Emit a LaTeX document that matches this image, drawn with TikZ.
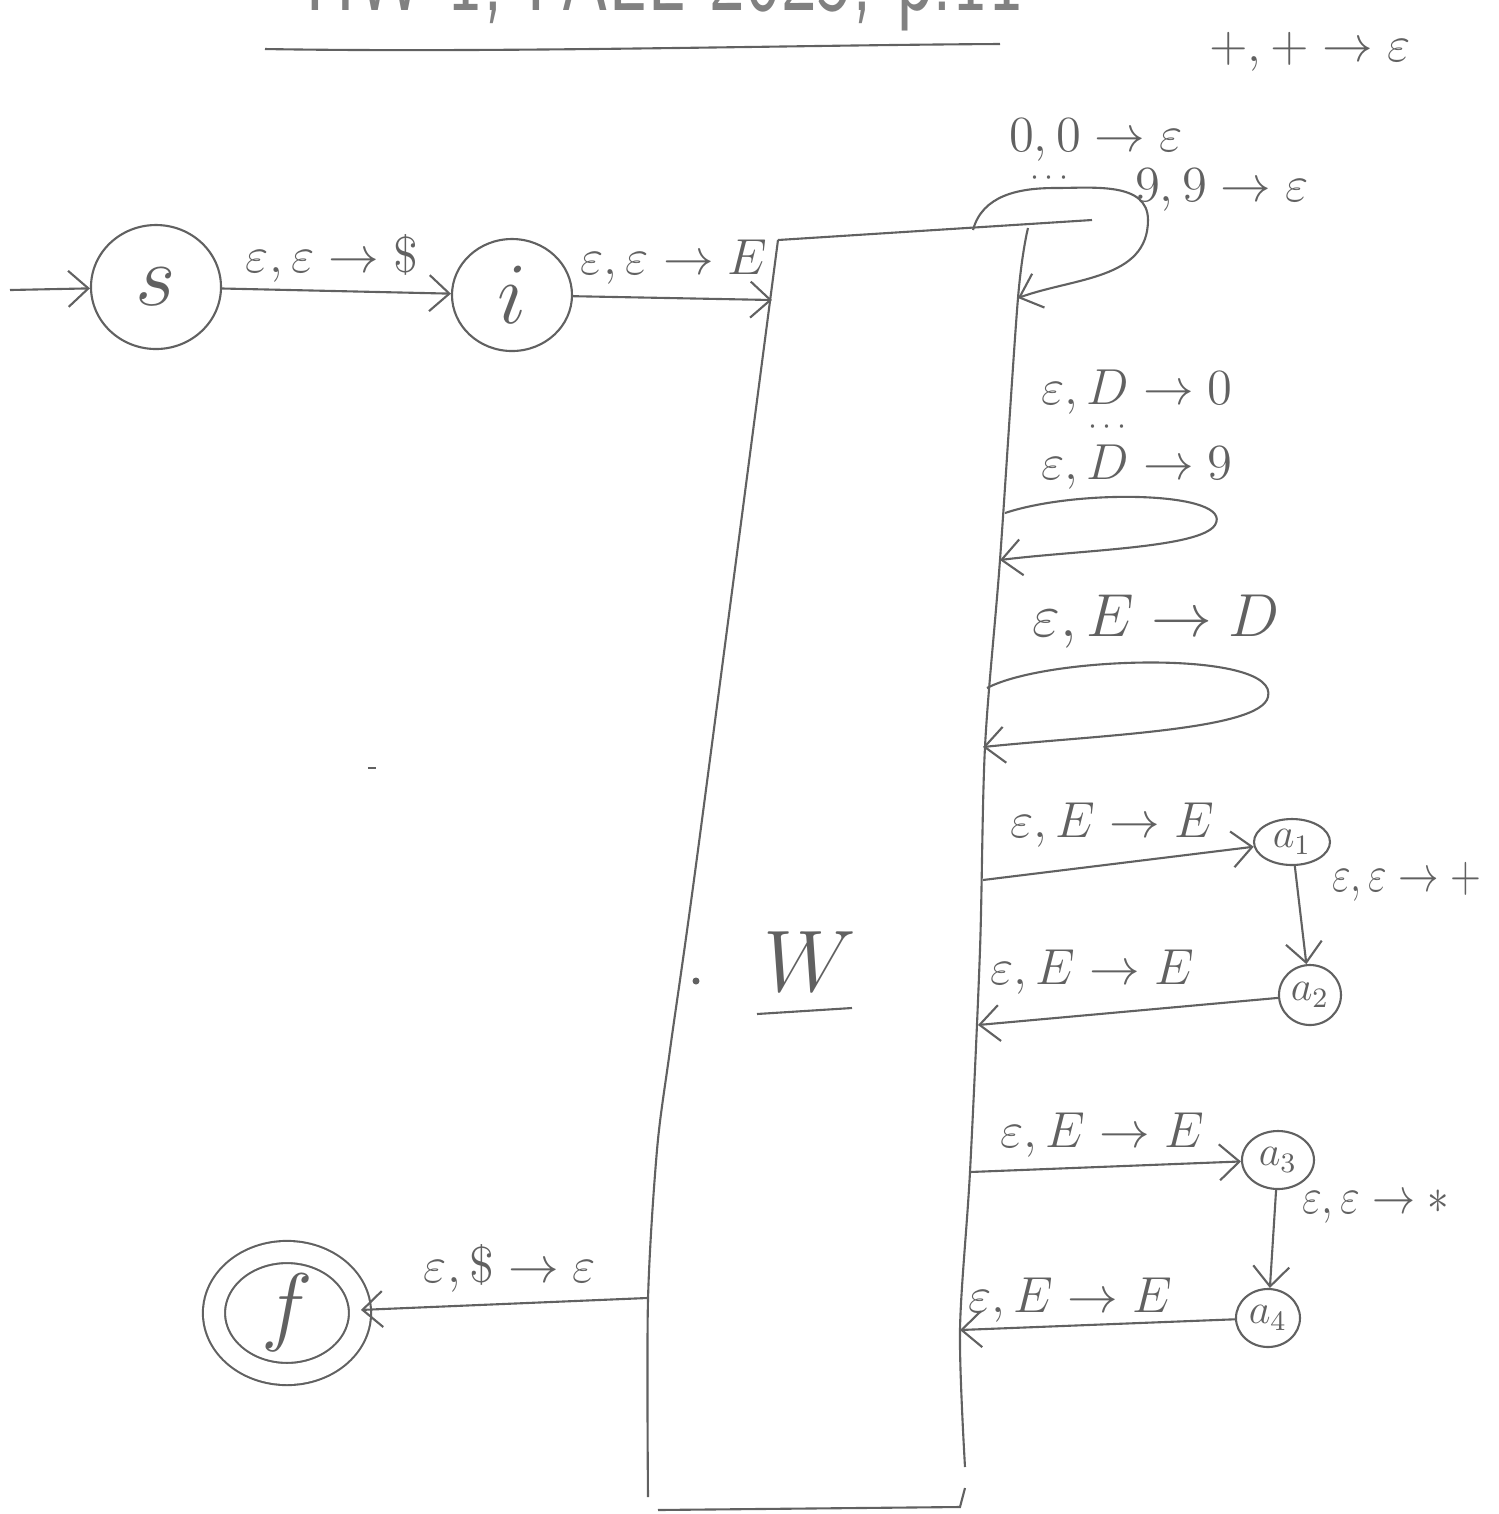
\documentclass[tikz,border=0pt]{standalone}
\usepackage{amsmath,amssymb}
\usepackage{tikz}
\usepackage{xcolor}
\usetikzlibrary{arrows.meta,shapes.geometric}

\definecolor{pencil}{gray}{0.38}

\begin{document}
\begin{tikzpicture}[every node/.style={font=\fontsize{15}{18}\selectfont, text=pencil, inner sep=1pt},
    pstate/.style={draw=pencil, ellipse, inner sep=0pt, line width=0.6pt},
    trans/.style={->, draw=pencil, line width=0.6pt},
    box/.style={draw=pencil, line width=0.6pt},
    >={Straight Barb[length=2mm, width=3.6mm]}]
  \useasboundingbox (0,0) rectangle (14.99,-15.14);

  % title, cut off by the page edge
  \node[anchor=base, font=\fontsize{30}{36}\selectfont\sffamily, text=pencil!80]
    (title) at (6.65,-0.10) {\scalebox{0.72}[1]{HW 1, FALL 2025, p.11}};
  \draw[box] (2.65,-0.49) .. controls (5,-0.53) and (8,-0.45) .. (10.0,-0.44);

  % the big W box
  \draw[box] (7.78,-2.40) -- (10.92,-2.20);
  \draw[box] plot[smooth] coordinates {(10.28,-2.28) (10.18,-2.98) (10.0,-5.6)
    (9.85,-7.47) (9.8,-9.5) (9.7,-11.72) (9.6,-13.3) (9.65,-14.67)};
  \draw[box] plot[smooth] coordinates {(7.78,-2.40) (6.98,-8.5) (6.70,-10.5)
    (6.57,-11.5) (6.48,-13.0) (6.48,-14.97)};
  \draw[box] (6.58,-15.10) -- (9.60,-15.07) -- (9.65,-14.88);
  \node[font=\Huge] (w) at (8.10,-9.62) {$W$};
  \draw[box] (7.57,-10.14) -- (8.52,-10.08);
  \fill[pencil] (6.96,-9.81) circle (0.035);
  \draw[box] (3.68,-7.68) -- (3.76,-7.68);

  % points on the box
  \coordinate (wi)  at (7.72,-3.00);
  \coordinate (wtop) at (9.73,-2.30);
  \coordinate (wl0) at (10.18,-2.98);
  \coordinate (wd1) at (10.05,-5.13);
  \coordinate (wd2) at (10.00,-5.60);
  \coordinate (we1) at (9.87,-6.88);
  \coordinate (we2) at (9.83,-7.47);
  \coordinate (wa1) at (9.83,-8.80);
  \coordinate (wa2) at (9.78,-10.25);
  \coordinate (wa3) at (9.70,-11.72);
  \coordinate (wa4) at (9.60,-13.30);
  \coordinate (wf)  at (6.47,-12.98);
  \coordinate (start) at (0.10,-2.90);

  % states
  \node[pstate, minimum width=1.30cm, minimum height=1.24cm, font=\Huge]
    (s) at (1.56,-2.87) {$s$};
  \node[pstate, minimum width=1.20cm, minimum height=1.12cm, font=\Huge]
    (i) at (5.12,-2.95) {$i$};
  \node[pstate, double, double distance=2mm, minimum width=1.46cm,
    minimum height=1.22cm, font=\Huge] (f) at (2.87,-13.13) {$f$};
  \node[pstate, minimum width=0.76cm, minimum height=0.46cm, font=\large]
    (a1) at (12.92,-8.42) {$a_1$};
  \node[pstate, minimum width=0.62cm, minimum height=0.60cm, font=\large]
    (a2) at (13.10,-9.95) {$a_2$};
  \node[pstate, minimum width=0.72cm, minimum height=0.58cm, font=\large]
    (a3) at (12.78,-11.60) {$a_3$};
  \node[pstate, minimum width=0.64cm, minimum height=0.58cm, font=\large]
    (a4) at (12.68,-13.18) {$a_4$};

  % transitions
  \draw[trans] (start) -- (s);
  \draw[trans] (s) -- (i);
  \draw[trans] (i) -- (wi);
  \draw[trans] (wtop) to[out=75, in=180] (10.55,-1.88) to[out=0, in=90]
    (11.48,-2.20) to[out=-90, in=20] (wl0);
  \draw[trans] (wd1) .. controls (10.8,-4.88) and (12.35,-4.92) .. (12.15,-5.25)
    .. controls (12.0,-5.48) and (10.8,-5.50) .. (wd2);
  \draw[trans] (we1) .. controls (10.5,-6.55) and (12.8,-6.50) .. (12.68,-6.97)
    .. controls (12.6,-7.30) and (11.0,-7.35) .. (we2);
  \draw[trans] (wa1) -- (a1);
  \draw[trans] (a1) -- (a2);
  \draw[trans] (a2) -- (wa2);
  \draw[trans] (wa3) -- (a3);
  \draw[trans] (a3) -- (a4);
  \draw[trans] (a4) -- (wa4);
  \draw[trans] (wf) -- (f);

  % labels
  \node (ls) at (3.32,-2.58) {$\varepsilon, \varepsilon \to \$$};
  \node[font=\Large] (li) at (6.74,-2.62) {$\varepsilon, \varepsilon \to E$};
  \node (lp) at (13.10,-0.52) {$+, + \to \varepsilon$};
  \node (l0) at (10.96,-1.40) {$0, 0 \to \varepsilon$};
  \node[font=\small] (ldz) at (10.52,-1.78) {$\cdots$};
  \node (l9) at (12.22,-1.90) {$9, 9 \to \varepsilon$};
  \node (ld0) at (11.37,-3.92) {$\varepsilon, D \to 0$};
  \node[font=\small] (ldd) at (11.10,-4.27) {$\cdots$};
  \node (ld9) at (11.37,-4.67) {$\varepsilon, D \to 9$};
  \node[font=\LARGE] (led) at (11.56,-6.22) {$\varepsilon, E \to D$};
  \node (la1) at (11.12,-8.25) {$\varepsilon, E \to E$};
  \node[anchor=west] (lpl) at (13.28,-8.82)
    {\scalebox{0.8}[1]{$\varepsilon, \varepsilon \to +$}};
  \node (la2) at (10.92,-9.72) {$\varepsilon, E \to E$};
  \node (la3) at (11.02,-11.35) {$\varepsilon, E \to E$};
  \node[anchor=west] (lst) at (12.98,-12.07)
    {\scalebox{0.85}[1]{$\varepsilon, \varepsilon \to *$}};
  \node (la4) at (10.70,-13.00) {$\varepsilon, E \to E$};
  \node (lf) at (5.10,-12.68) {$\varepsilon, \$ \to \varepsilon$};
\end{tikzpicture}
\end{document}
